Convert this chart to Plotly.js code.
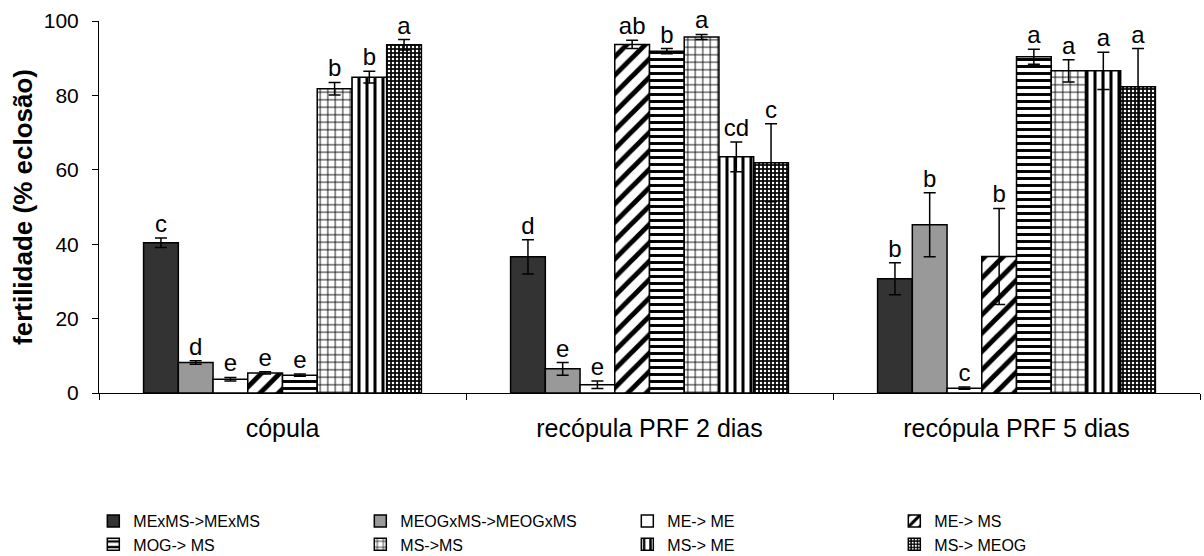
<!DOCTYPE html>
<html>
<head>
<meta charset="utf-8">
<script src="https://cdn.plot.ly/plotly-3.0.1.min.js"></script>
<style>
  html, body { margin: 0; padding: 0; background: #ffffff; }
  #chart { width: 1204px; height: 556px; }
</style>
</head>
<body>
<div id="chart"></div>
<script>
// Groups along the x axis
const categories = ['cópula', 'recópula PRF 2 dias', 'recópula PRF 5 dias'];

// Mean fertility (% hatching) per mating treatment, one value per group
const mexmsValues   = [40.4, 36.6, 30.7];
const meogxmsValues = [8.2, 6.5, 45.2];
const meMeValues    = [3.7, 2.2, 1.3];
const meMsValues    = [5.4, 93.7, 36.7];
const mogMsValues   = [4.8, 91.9, 90.4];
const msMsValues    = [81.8, 95.7, 86.6];
const msMeValues    = [84.9, 63.5, 86.6];
const msMeogValues  = [93.6, 61.9, 82.3];

// Standard errors
const mexmsErr   = [1.3, 4.6, 4.3];
const meogxmsErr = [0.5, 1.7, 8.6];
const meMeErr    = [0.5, 1.0, 0.3];
const meMsErr    = [0.3, 1.1, 12.9];
const mogMsErr   = [0.3, 0.7, 2.0];
const msMsErr    = [1.7, 0.7, 3.0];
const msMeErr    = [1.6, 4.0, 5.0];
const msMeogErr  = [1.4, 10.5, 10.3];

// Significance letters
const mexmsLetters   = ['c', 'd', 'b'];
const meogxmsLetters = ['d', 'e', 'b'];
const meMeLetters    = ['e', 'e', 'c'];
const meMsLetters    = ['e', 'ab', 'b'];
const mogMsLetters   = ['e', 'b', 'a'];
const msMsLetters    = ['b', 'a', 'a'];
const msMeLetters    = ['b', 'cd', 'a'];
const msMeogLetters  = ['a', 'c', 'a'];

// Legend labels
const seriesNames = ['MExMS->MExMS', 'MEOGxMS->MEOGxMS', 'ME-> ME', 'ME-> MS',
                     'MOG-> MS', 'MS->MS', 'MS-> ME', 'MS-> MEOG'];

const FONT = 'Liberation Sans, Arial, Helvetica, sans-serif';
const BARGAP = 0.243;

const series = [
  { values: mexmsValues,   err: mexmsErr,   letters: mexmsLetters,
    marker: { color: '#333333' } },
  { values: meogxmsValues, err: meogxmsErr, letters: meogxmsLetters,
    marker: { color: '#999999' } },
  { values: meMeValues,    err: meMeErr,    letters: meMeLetters,
    marker: { color: '#ffffff' } },
  { values: meMsValues,    err: meMsErr,    letters: meMsLetters,
    marker: { color: '#ffffff',
      pattern: { shape: '/', size: 13, solidity: 0.38, fgcolor: '#000000', bgcolor: '#ffffff', fillmode: 'replace' } } },
  { values: mogMsValues,   err: mogMsErr,   letters: mogMsLetters,
    marker: { color: '#ffffff',
      pattern: { shape: '-', size: 7, solidity: 0.42, fgcolor: '#000000', bgcolor: '#ffffff', fillmode: 'replace' } } },
  { values: msMsValues,    err: msMsErr,    letters: msMsLetters,
    marker: { color: '#ffffff',
      pattern: { shape: '+', size: 7.5, solidity: 0.22, fgcolor: '#000000', bgcolor: '#ffffff', fillmode: 'replace' } } },
  { values: msMeValues,    err: msMeErr,    letters: msMeLetters,
    marker: { color: '#ffffff',
      pattern: { shape: '|', size: 8, solidity: 0.38, fgcolor: '#000000', bgcolor: '#ffffff', fillmode: 'replace' } } },
  { values: msMeogValues,  err: msMeogErr,  letters: msMeogLetters,
    marker: { color: '#0a0a0a',
      pattern: { shape: '.', size: 4, solidity: 0.3, fgcolor: '#ffffff', bgcolor: '#0a0a0a', fillmode: 'replace' } } }
];

const traces = [];

// Bars with error bars; first four entries go in the upper legend row, the rest in the lower one
series.forEach((s, i) => {
  traces.push({
    type: 'bar',
    name: seriesNames[i],
    legend: i < 4 ? 'legend' : 'legend2',
    x: categories,
    y: s.values,
    offsetgroup: String(i),
    marker: Object.assign({ line: { color: '#000000', width: 1.5 } }, s.marker),
    error_y: { type: 'data', array: s.err, visible: true,
               color: '#000000', thickness: 1.5, width: 6 },
    hoverinfo: 'skip'
  });
});

// Letters above each error bar, grouped the same way as the bars
series.forEach((s, i) => {
  traces.push({
    type: 'scatter',
    mode: 'text',
    x: categories,
    y: s.values.map((v, k) => v + s.err[k]),
    text: s.letters,
    textposition: 'top center',
    textfont: { family: FONT, size: 24, color: '#000000' },
    offsetgroup: String(i),
    showlegend: false,
    hoverinfo: 'skip',
    cliponaxis: false
  });
});

const legendStyle = (yPos) => ({
  orientation: 'h',
  xref: 'container', yref: 'container',
  x: 0.0775, xanchor: 'left',
  y: yPos, yanchor: 'top',
  entrywidth: 222, entrywidthmode: 'pixels',
  traceorder: 'normal',
  font: { family: FONT, size: 16, color: '#000000' },
  bgcolor: 'rgba(0,0,0,0)'
});

const layout = {
  width: 1204,
  height: 556,
  paper_bgcolor: '#ffffff',
  plot_bgcolor: '#ffffff',
  margin: { l: 99, r: 4, t: 21, b: 163, pad: 0 },
  barmode: 'group',
  bargap: BARGAP,
  bargroupgap: 0,
  scattermode: 'group',
  scattergap: BARGAP,
  font: { family: FONT, color: '#000000' },
  showlegend: true,
  legend: legendStyle(0.0935),
  legend2: legendStyle(0.0515),
  xaxis: {
    type: 'category',
    showline: true, linecolor: '#000000', linewidth: 1,
    showgrid: false, zeroline: false,
    ticks: 'outside', tickson: 'boundaries', ticklen: 6, tickcolor: '#000000', tickwidth: 1,
    tickfont: { family: FONT, size: 25, color: '#000000' },
    ticklabelstandoff: 13,
    fixedrange: true
  },
  yaxis: {
    range: [0, 100],
    tickvals: [0, 20, 40, 60, 80, 100],
    showline: true, linecolor: '#000000', linewidth: 1,
    showgrid: false, zeroline: false,
    ticks: 'outside', ticklen: 6, tickcolor: '#000000', tickwidth: 1,
    tickfont: { family: FONT, size: 21, color: '#000000' },
    ticklabelstandoff: 9,
    title: { text: 'fertilidade (% eclosão)', standoff: 3,
             font: { family: FONT, size: 26, color: '#000000', weight: 'bold' } },
    fixedrange: true
  }
};

Plotly.newPlot('chart', traces, layout, { displayModeBar: false, staticPlot: true });
</script>
</body>
</html>
